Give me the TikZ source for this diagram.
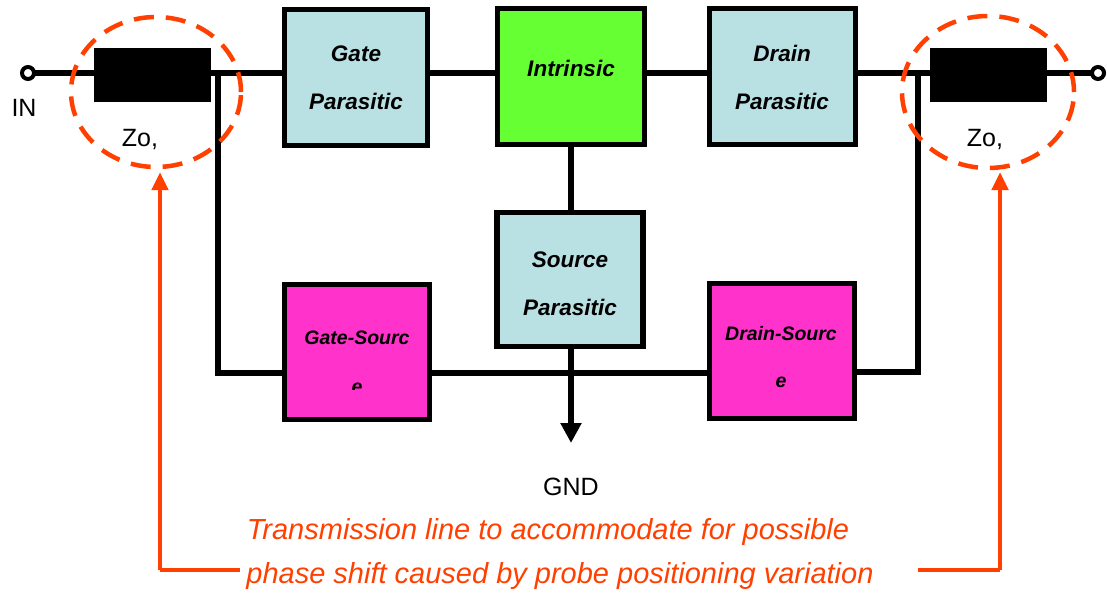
\documentclass[tikz,border=0pt]{standalone}
\usepackage{fontspec}
\setmainfont{Liberation Sans}
\usetikzlibrary{arrows.meta}
\definecolor{pblue}{RGB}{185,224,227}
\definecolor{pgreen}{RGB}{102,255,51}
\definecolor{pmag}{RGB}{255,51,204}
\definecolor{porg}{RGB}{255,64,0}
\begin{document}
\begin{tikzpicture}[x=1pt,y=-1pt,
  wire/.style={line width=5.5pt,draw=black},
  blockbox/.style={draw=black,line width=5.5pt,inner sep=0pt,outer sep=0pt},
  blocktxt/.style={font=\fontsize{22.5}{22.5}\selectfont\bfseries\itshape,anchor=base,inner sep=0pt},
  smalltxt/.style={font=\fontsize{19.5}{19.5}\selectfont\bfseries\itshape,anchor=base,inner sep=0pt},
  plain/.style={font=\fontsize{25}{25}\selectfont,anchor=base,inner sep=0pt},
  notetxt/.style={font=\fontsize{29}{29}\selectfont\itshape,text=porg,anchor=base,inner sep=0pt},
  tline/.style={fill=black,draw=none,inner sep=0pt,outer sep=0pt},
  term/.style={circle,draw=black,line width=4pt,fill=white,minimum size=12pt,inner sep=0pt,outer sep=0pt},
  halo/.style={draw=porg,line width=4.5pt,dash pattern=on 20pt off 12pt},
  oarrow/.style={draw=porg,line width=4.5pt,-{Triangle[length=18pt,width=16pt]}},
  oline/.style={draw=porg,line width=4.5pt}
]
\useasboundingbox (0,0) rectangle (1107,599);

% terminals and transmission lines
\node[term] (tin) at (28,73) {};
\node[term] (tout) at (1098,73) {};
\node[tline,minimum width=117pt,minimum height=54pt] (zl) at (152.5,75) {};
\node[tline,minimum width=117pt,minimum height=54pt] (zr) at (988,75) {};

% blocks
\node[blockbox,fill=pblue,minimum width=143pt,minimum height=136pt] (gp) at (356,77.5) {};
\node[blockbox,fill=pgreen,minimum width=147pt,minimum height=136pt] (ip) at (571,76.5) {};
\node[blockbox,fill=pblue,minimum width=146pt,minimum height=136pt] (dp) at (782.5,76.5) {};
\node[blockbox,fill=pblue,minimum width=146pt,minimum height=134pt] (sp) at (570,279.5) {};
\node[blockbox,fill=pmag,minimum width=145pt,minimum height=135pt] (gs) at (357,352) {};
\node[blockbox,fill=pmag,minimum width=145pt,minimum height=135pt] (ds) at (782,351) {};

% coordinates
\coordinate (jl) at (218,73);
\coordinate (jlb) at (218,373);
\coordinate (jr) at (918,73);
\coordinate (jrb) at (918,372);
\coordinate (gnd) at (571,443);

% wires (main line at the height of the terminals)
\draw[wire] (tin.east) -- (zl.west |- tin);
\draw[wire] (zl.east |- tin) -- (gp.west |- tin);
\draw[wire] (gp.east |- tin) -- (ip.west |- tin);
\draw[wire] (ip.east |- tin) -- (dp.west |- tin);
\draw[wire] (dp.east |- tin) -- (zr.west |- tin);
\draw[wire] (zr.east |- tin) -- (tout.west);
\draw[wire] (jl) -- (jlb) -- (gs.west |- jlb);
\draw[wire] (gs.east |- jlb) -- (ds.west |- jlb);
\draw[wire] (ds.east |- jrb) -- (jrb) -- (jr);
\draw[wire] (ip.south) -- (ip.south |- sp.north);
\draw[line width=5.5pt,-{Triangle[length=20pt,width=20pt]}] (gnd |- sp.south) -- (gnd);

% block labels
\node[blocktxt] (t1) at (356,62) {Gate};
\node[blocktxt] (t2) at (356,110) {Parasitic};
\node[blocktxt] (t3) at (571,77) {Intrinsic};
\node[blocktxt] (t4) at (782,62) {Drain};
\node[blocktxt] (t5) at (782,110) {Parasitic};
\node[blocktxt] (t6) at (570,267) {Source};
\node[blocktxt] (t7) at (570,315) {Parasitic};
\node[smalltxt] (t8) at (357,344) {Gate-Sourc};
\begin{scope}
\clip (330,370) rectangle (390,389);
\node[smalltxt] (t9) at (357,393) {e};
\end{scope}
\node[smalltxt] (t10) at (781,340) {Drain-Sourc};
\node[smalltxt] (t11) at (781,387) {e};

% plain labels
\node[plain] (lin) at (24,117) {IN};
\node[plain] (lzl) at (140,146) {Zo,};
\node[plain] (lzr) at (985,146) {Zo,};
\node[plain] (lgnd) at (571,495) {GND};

% halos
\draw[halo] (156,92) ellipse [x radius=85pt,y radius=75pt];
\draw[halo] (988,92) ellipse [x radius=86pt,y radius=76pt];

% note and arrows
\node[notetxt] (n1) at (548,539) {Transmission line to accommodate for possible};
\node[notetxt] (n2) at (560,583) {phase shift caused by probe positioning variation};
\coordinate (al) at (160,570);
\coordinate (ale) at (240,570);
\coordinate (ar) at (1000,570);
\coordinate (are) at (918,570);
\draw[oline] (ale) -- (al);
\draw[oarrow] (al) -- (160,172);
\draw[oline] (are) -- (ar);
\draw[oarrow] (ar) -- (1000,172);
\end{tikzpicture}
\end{document}
